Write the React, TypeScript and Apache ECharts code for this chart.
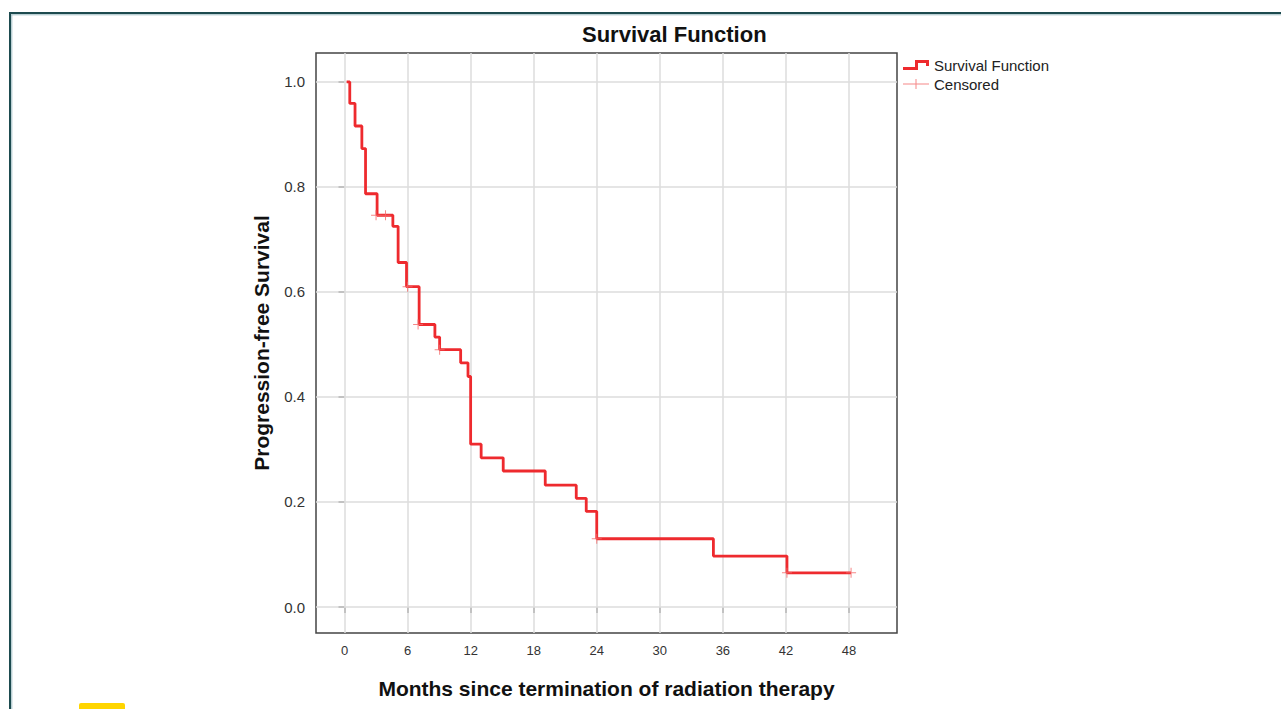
import React, { useEffect, useRef } from "react";
import * as echarts from "echarts";

// Kaplan-Meier step points (time in months, survival after the step)
const times = [0.2, 0.5, 1.0, 1.65, 2.0, 3.1, 4.6, 5.1, 5.9, 7.1, 8.6, 9.05, 11.05, 11.75, 12.0, 13.0, 15.1, 19.1, 22.05, 23.0, 24.0, 35.1, 42.1, 48.2];
const survival = [1.0, 0.959, 0.916, 0.873, 0.787, 0.746, 0.725, 0.656, 0.61, 0.538, 0.514, 0.49, 0.465, 0.439, 0.31, 0.284, 0.259, 0.232, 0.207, 0.182, 0.13, 0.097, 0.065, 0.065];

// Censored observations
const censorTimes = [3.0, 3.9, 6.0, 7.0, 9.05, 24.0, 42.1, 48.2];
const censorValues = [0.746, 0.746, 0.61, 0.538, 0.49, 0.13, 0.065, 0.065];

// Tick values
const xTicks = [0, 6, 12, 18, 24, 30, 36, 42, 48];
const yTicks = [0, 0.2, 0.4, 0.6, 0.8, 1.0];

const FONT = "'Liberation Sans', Arial, sans-serif";
const RED = "#ee2a2e";
const CENSOR = "#f26a6a";

const stepIcon = "path://M0,7 L12,7 L12,0 L26,0 L26,6 L23,6 L23,3 L15,3 L15,10 L0,10 Z";
const plusIcon = "path://M0,5.5 L26,5.5 L26,6.5 L0,6.5 Z M12.5,1 L13.5,1 L13.5,11 L12.5,11 Z";
const plusSymbol = "path://M0,4.5 L10,4.5 L10,5.5 L0,5.5 Z M4.5,0 L5.5,0 L5.5,10 L4.5,10 Z";

export default function App() {
  const ref = useRef<HTMLDivElement>(null);

  useEffect(() => {
    if (!ref.current) return;
    const chart = echarts.init(ref.current, undefined, { renderer: "svg" });

    const kmData = times.map((t, i) => [t, survival[i]]);
    const censorData = censorTimes.map((t, i) => [t, censorValues[i]]);
    const gridLines = [
      ...xTicks.map((v) => ({ xAxis: v })),
      ...yTicks.map((v) => ({ yAxis: v })),
    ];

    chart.setOption({
      animation: false,
      backgroundColor: "#ffffff",
      textStyle: { fontFamily: FONT },
      title: {
        text: "Survival Function",
        left: 582,
        top: 23,
        padding: 0,
        textStyle: { fontSize: 22, fontWeight: "bold", color: "#111", fontFamily: FONT },
      },
      legend: {
        orient: "vertical",
        left: 903,
        top: 57,
        padding: 0,
        itemWidth: 26,
        itemHeight: 12,
        itemGap: 3,
        textStyle: { fontSize: 15, lineHeight: 16, color: "#222", fontFamily: FONT },
        data: [
          { name: "Survival Function", icon: stepIcon, itemStyle: { color: RED } },
          { name: "Censored", icon: plusIcon, itemStyle: { color: CENSOR } },
        ],
      },
      grid: {
        left: 316,
        top: 53,
        width: 581,
        height: 580,
        show: true,
        borderColor: "#444",
        borderWidth: 1.5,
        backgroundColor: "transparent",
      },
      xAxis: {
        type: "value",
        min: -2.714,
        max: 52.57,
        name: "Months since termination of radiation therapy",
        nameLocation: "middle",
        nameGap: 45,
        nameTextStyle: { fontSize: 21, fontWeight: "bold", color: "#111", fontFamily: FONT },
        axisLine: { show: false },
        splitLine: { show: false },
        axisTick: { show: true, length: 6, customValues: xTicks, lineStyle: { color: "#444", width: 1.5 } },
        axisLabel: {
          customValues: xTicks,
          margin: 11,
          fontSize: 13,
          color: "#333",
          fontFamily: FONT,
        },
      },
      yAxis: {
        type: "value",
        min: -0.0495,
        max: 1.055,
        name: "Progression-free Survival",
        nameLocation: "middle",
        nameGap: 44,
        nameTextStyle: { fontSize: 21, fontWeight: "bold", color: "#111", fontFamily: FONT },
        axisLine: { show: false },
        splitLine: { show: false },
        axisTick: { show: true, length: 6, customValues: yTicks, lineStyle: { color: "#444", width: 1.5 } },
        axisLabel: {
          customValues: yTicks,
          margin: 11,
          fontSize: 15,
          color: "#333",
          fontFamily: FONT,
          formatter: (v: number) => v.toFixed(1),
        },
      },
      graphic: [
        { type: "line", shape: { x1: 10, y1: 13, x2: 1281, y2: 13 }, style: { stroke: "#1d4b4f", lineWidth: 2 } },
        { type: "line", shape: { x1: 10, y1: 14.8, x2: 1281, y2: 14.8 }, style: { stroke: "#9dbcc2", lineWidth: 1 } },
        { type: "line", shape: { x1: 10, y1: 12, x2: 10, y2: 709 }, style: { stroke: "#1d4b4f", lineWidth: 2 } },
        { type: "line", shape: { x1: 11.8, y1: 15, x2: 11.8, y2: 709 }, style: { stroke: "#9dbcc2", lineWidth: 1 } },
        { type: "rect", shape: { x: 79, y: 703, width: 46, height: 10, r: 2 }, style: { fill: "#ffd500" } },
      ],
      series: [
        {
          name: "grid",
          type: "line",
          data: [],
          silent: true,
          z: 1,
          markLine: {
            silent: true,
            z: 1,
            symbol: ["none", "none"],
            label: { show: false },
            lineStyle: { color: "#dcdcdc", width: 1.5, type: "solid" },
            data: gridLines,
          },
        },
        {
          name: "Survival Function",
          type: "line",
          step: "end",
          data: kmData,
          showSymbol: false,
          z: 3,
          lineStyle: { color: RED, width: 2.8 },
          itemStyle: { color: RED },
        },
        {
          name: "Censored",
          type: "scatter",
          data: censorData,
          symbol: plusSymbol,
          symbolSize: 10,
          z: 4,
          itemStyle: { color: CENSOR },
        },
      ],
    });

    return () => chart.dispose();
  }, []);

  return (
    <div
      ref={ref}
      style={{ position: "fixed", left: 0, top: 0, width: 1281, height: 709, background: "#fff" }}
    />
  );
}
